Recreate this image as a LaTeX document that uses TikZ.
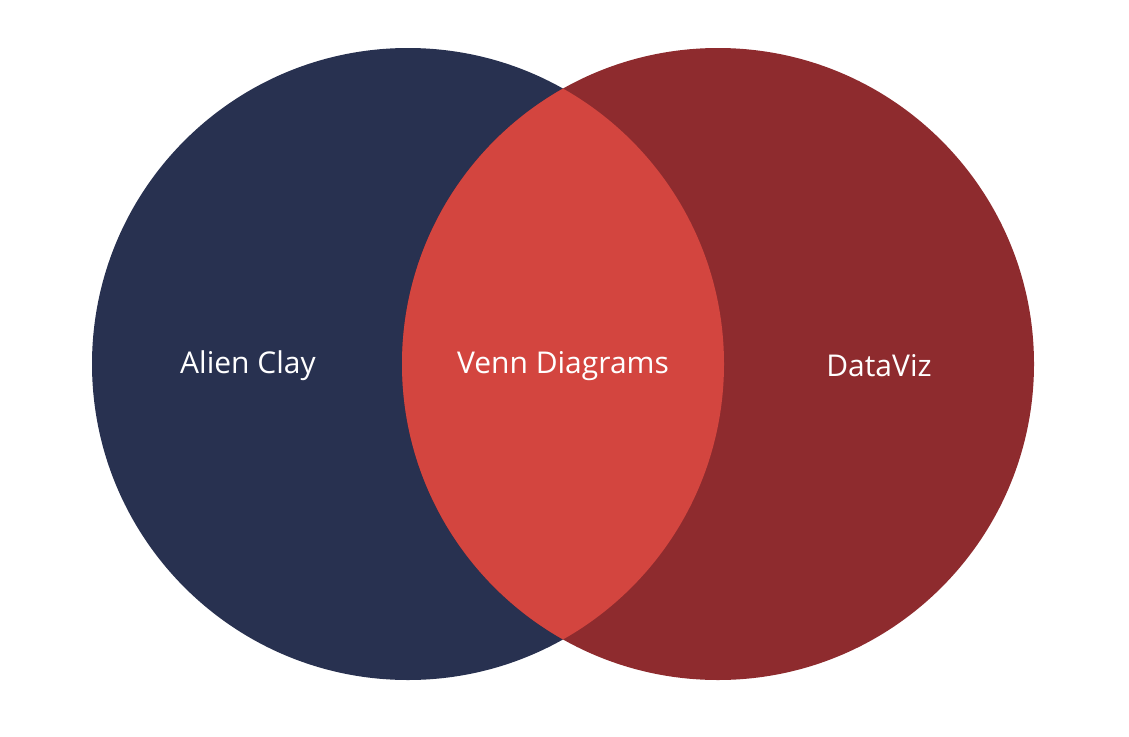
\documentclass[tikz,border=0pt]{standalone}
\usepackage{fontspec}
\setmainfont{Open Sans}
\definecolor{cLeft}{HTML}{283150}
\definecolor{cRight}{HTML}{8E2B2E}
\definecolor{cMid}{HTML}{D3453F}
\begin{document}
\begin{tikzpicture}[x=1pt,y=-1pt,lab/.style={text=white,font=\fontsize{30}{36}\selectfont}]
\useasboundingbox (0,0) rectangle (1129,736);
\fill[cLeft] (408,364) circle (316);
\fill[cRight] (718,364) circle (316);
\begin{scope}
\clip (408,364) circle (316);
\fill[cMid] (718,364) circle (316);
\end{scope}
\node[lab] (a) at (248,366) {Alien Clay};
\node[lab] (v) at (563,366) {Venn Diagrams};
\node[lab] (d) at (879,366) {DataViz};
\end{tikzpicture}
\end{document}
